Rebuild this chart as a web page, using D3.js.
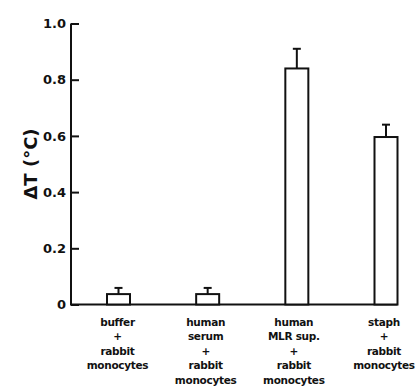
<!DOCTYPE html>
<html>
<head>
<meta charset="utf-8">
<script src="https://cdn.jsdelivr.net/npm/d3@7"></script>
<style>
  body { margin: 0; background: #fff; }
  text { font-family: "DejaVu Sans", sans-serif; font-weight: bold; fill: #111; }
</style>
</head>
<body>
<div id="chart"></div>
<script>
'use strict';

const categories = ["buffer", "serum", "mlr", "staph"];
const labelLines = [
    ["buffer", "+", "rabbit", "monocytes"],
    ["human", "serum", "+", "rabbit", "monocytes"],
    ["human", "MLR sup.", "+", "rabbit", "monocytes"],
    ["staph", "+", "rabbit", "monocytes"]
];
const means = [0.037, 0.037, 0.84, 0.596];
const errors = [0.022, 0.022, 0.07, 0.044];
const yTicks = [0, 0.2, 0.4, 0.6, 0.8, 1.0];

const width = 417;
const height = 392;
const barWidth = 23;

const svg = d3.select("#chart")
    .append("svg")
    .attr("width", width)
    .attr("height", height);

const y = d3.scaleLinear().domain([0, 1]).range([304.5, 23.5]);
const x = d3.scalePoint().domain(categories).range([118.5, 386]);

// y axis: ticks point inward
const yAxis = svg.append("g")
    .attr("transform", "translate(71,0)")
    .call(d3.axisRight(y)
        .tickValues(yTicks)
        .tickSize(8)
        .tickFormat(d => d === 0 ? "0" : d3.format(".1f")(d)));
yAxis.select(".domain").remove();
yAxis.selectAll("line").attr("stroke", "#111").attr("stroke-width", 2);
yAxis.selectAll("text")
    .attr("x", -5)
    .attr("text-anchor", "end")
    .style("font-size", "13px");

svg.append("line")
    .attr("x1", 71).attr("x2", 71)
    .attr("y1", y(1)).attr("y2", y(0))
    .attr("stroke", "#111").attr("stroke-width", 2);

// x baseline ends at last bar's right edge
svg.append("line")
    .attr("x1", 70).attr("x2", x(categories[3]) + barWidth / 2)
    .attr("y1", y(0)).attr("y2", y(0))
    .attr("stroke", "#111").attr("stroke-width", 2);

// error bars (upper only)
const err = svg.append("g");
categories.forEach((c, i) => {
    err.append("line")
        .attr("x1", x(c)).attr("x2", x(c))
        .attr("y1", y(means[i])).attr("y2", y(means[i] + errors[i]))
        .attr("stroke", "#111").attr("stroke-width", 2);
    err.append("line")
        .attr("x1", x(c) - 4).attr("x2", x(c) + 4)
        .attr("y1", y(means[i] + errors[i])).attr("y2", y(means[i] + errors[i]))
        .attr("stroke", "#111").attr("stroke-width", 2);
});

// bars
svg.append("g")
    .selectAll("rect")
    .data(categories)
    .join("rect")
    .attr("x", d => x(d) - barWidth / 2)
    .attr("width", barWidth)
    .attr("y", (d, i) => y(means[i]))
    .attr("height", (d, i) => y(0) - y(means[i]))
    .attr("fill", "#fff")
    .attr("stroke", "#111")
    .attr("stroke-width", 2);

// category labels
const labelShift = [-1, -2, -3, -2];
categories.forEach((c, i) => {
    const t = svg.append("text")
        .attr("text-anchor", "middle")
        .style("font-size", "10.5px")
        .style("letter-spacing", "-0.3px");
    labelLines[i].forEach((line, j) => {
        t.append("tspan")
            .attr("x", x(c) + labelShift[i])
            .attr("y", 326 + j * 14.4)
            .text(line);
    });
});

// y title
svg.append("text")
    .attr("transform", `translate(37,${y(0.5)}) rotate(-90)`)
    .attr("text-anchor", "middle")
    .style("font-size", "18px")
    .text("ΔT (°C)");
</script>
</body>
</html>
